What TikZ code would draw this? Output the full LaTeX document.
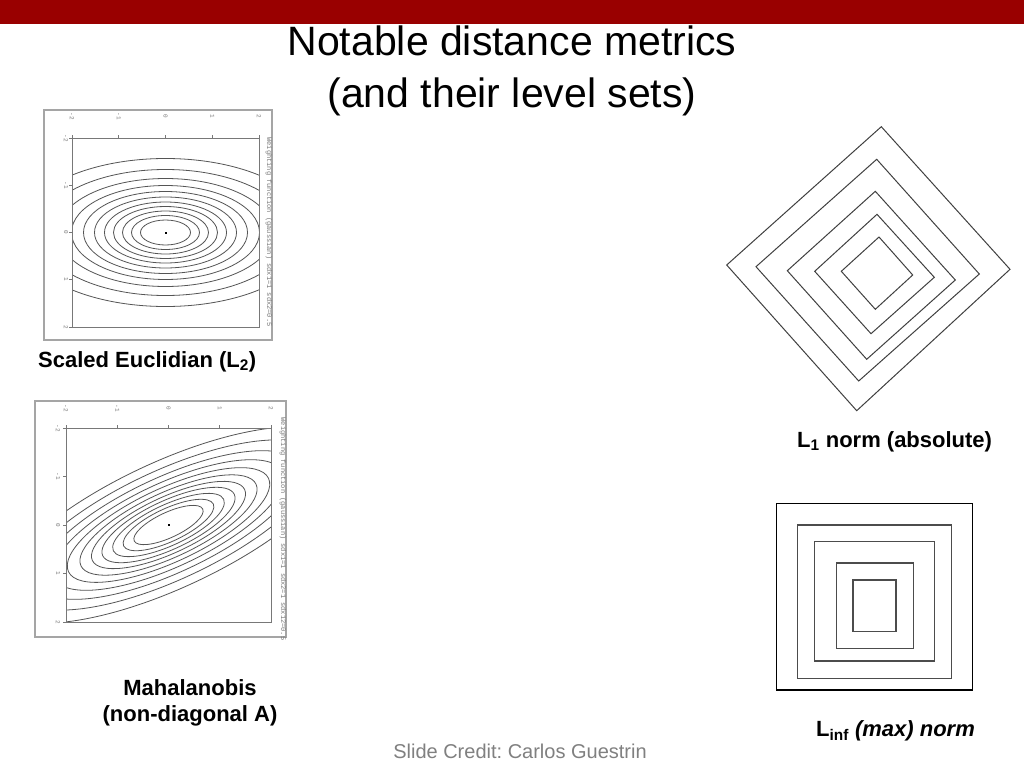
\documentclass[tikz,border=0pt]{standalone}
\usepackage{fontspec}
\setmainfont{Liberation Sans}
\newfontfamily\plotmono{Liberation Mono}
\definecolor{barred}{RGB}{153,0,0}
\definecolor{framegray}{RGB}{165,165,165}
\definecolor{axgray}{RGB}{120,120,120}
\definecolor{contour}{RGB}{85,85,85}
\definecolor{credit}{RGB}{128,128,128}
\frenchspacing
\begin{document}
\begin{tikzpicture}[x=1pt,y=-1pt,
  titletext/.style={inner sep=0pt,anchor=base,font=\fontsize{41}{49}\selectfont},
  lab/.style={inner sep=0pt,font=\fontsize{22}{26}\selectfont\bfseries},
  creditlab/.style={inner sep=0pt,anchor=base,text=credit,font=\fontsize{20}{24}\selectfont},
  ticklab/.style={inner sep=0pt,text=axgray,rotate=-90,font=\plotmono\fontsize{6}{7}\selectfont},
  sidelab/.style={inner sep=0pt,text=axgray,rotate=-90,font=\plotmono\fontsize{7}{8}\selectfont},
  outerframe/.style={draw=framegray,line width=2pt},
  axbox/.style={draw=axgray,line width=0.8pt},
  cline/.style={draw=contour,line width=0.8pt},
  lvl/.style={draw=black!75,line width=1pt},
  sq/.style={draw=black!70,line width=1.5pt}]
\useasboundingbox (0,0) rectangle (1024,768);
\fill[white] (0,0) rectangle (1024,768);
\fill[barred] (0,0) rectangle (1024,24);

% title
\node[titletext] (t1) at (512,56) {Notable distance metrics};
\node[titletext] (t2) at (512,107) {(and their level sets)};

% ---------- plot 1: scaled Euclidean ----------
\draw[outerframe] (44,110) rectangle (272,340);
\coordinate (c1) at (165.5,232.5);
\begin{scope}
  \clip (72,138) rectangle (259,327);
  \foreach \b in {12.5,17,21.5,26,30.5,35.5,41,47,54,63,74}
    \draw[cline] (c1) ellipse [x radius=2*\b pt, y radius=\b pt];
\end{scope}
\draw[axbox] (72,138) rectangle (259,327);
\fill[black] (164.5,231.5) rectangle (166.5,233.5);
\foreach \i/\t in {0/-2,1/-1,2/0,3/1,4/2}{
  \draw[axgray,line width=0.6pt] (72+46.75*\i,138) -- ++(0,-3);
  \draw[axgray,line width=0.6pt] (72,138+47.25*\i) -- ++(-3,0);
  \node[ticklab] at (72+46.75*\i,116) {\t};
  \node[ticklab] at (66,138+47.25*\i) {\t};
}
\node[sidelab] (s1) at (269,232) {Weighting function (gaussian) sdx1=1 sdx2=0.5};

\node[lab,anchor=base west] (lab1) at (38,367) {Scaled Euclidian (L\textsubscript{2})};

% ---------- plot 2: Mahalanobis ----------
\draw[outerframe] (35,401) rectangle (286,637);
\coordinate (c2) at (168.5,525);
\begin{scope}
  \clip (66,428) rectangle (271,622);
  \foreach \b in {12.6,16.5,20.3,24.2,28,32.2,36.8,41.9,47.7,54.6,63}
    \draw[cline,rotate around={25:(c2)}] (c2) ellipse [x radius=3*\b pt, y radius=\b pt];
\end{scope}
\draw[axbox] (66,428) rectangle (271,622);
\fill[black] (167.5,524) rectangle (169.5,526);
\foreach \i/\t in {0/-2,1/-1,2/0,3/1,4/2}{
  \draw[axgray,line width=0.6pt] (66+51.25*\i,428) -- ++(0,-3);
  \draw[axgray,line width=0.6pt] (66,428+48.5*\i) -- ++(-3,0);
  \node[ticklab] at (66+51.25*\i,408) {\t};
  \node[ticklab] at (58,428+48.5*\i) {\t};
}
\node[sidelab] (s2) at (283,529) {Weighting function (gaussian) sdx1=1 sdx2=1 sdx12=0.5};

\node[lab,anchor=base] (lab2a) at (190,695) {Mahalanobis};
\node[lab,anchor=base] (lab2b) at (190,721) {(non-diagonal A)};

% ---------- L1 level sets ----------
\draw[lvl] (881.3,126.7) -- (1010,269.3) -- (856.7,410.7) -- (726.7,265) -- cycle;
\draw[lvl] (876.7,159.3) -- (979.3,274) -- (858.7,381) -- (756,266.7) -- cycle;
\draw[lvl] (875.3,191.3) -- (955.3,280) -- (866.7,359.3) -- (787.3,270.7) -- cycle;
\draw[lvl] (877,214.3) -- (934.3,277.3) -- (871,333.7) -- (814.7,271.3) -- cycle;
\draw[lvl] (879,237) -- (912.7,275) -- (875.3,309.3) -- (841.3,271.3) -- cycle;
\node[lab,anchor=base west] (lab3) at (797,447) {L\textsubscript{1} norm (absolute)};

% ---------- L-inf level sets ----------
\draw[draw=black,line width=1.2pt] (776.7,503.3) rectangle (972.7,690);
\draw[sq] (797.7,525) rectangle (951.7,678.3);
\draw[sq] (814.3,541.7) rectangle (934.3,661);
\draw[sq] (836.3,563) rectangle (913.3,648.7);
\draw[sq] (853,580) rectangle (896,631.3);
\node[lab,anchor=base west] (lab4) at (816,736) {L\textsubscript{inf} \textit{(max) norm}};

% credit
\node[creditlab] (cr) at (520,758) {Slide Credit: Carlos Guestrin};
\end{tikzpicture}
\end{document}
